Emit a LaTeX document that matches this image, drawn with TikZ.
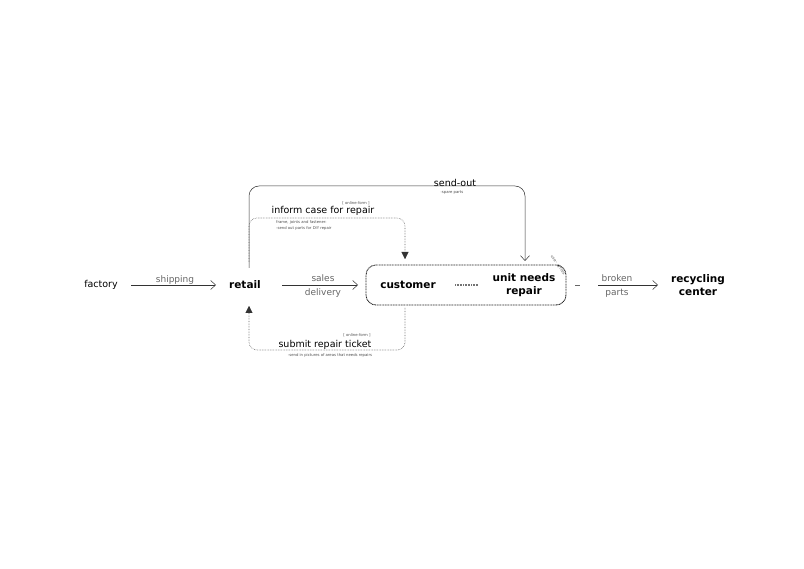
\documentclass[tikz,border=0pt]{standalone}
\usepackage{fontspec}
\setmainfont{DejaVu Sans}
\usetikzlibrary{arrows.meta,calc}
\begin{document}
\begin{tikzpicture}[x=1pt,y=-1pt,
 lbl/.style={font=\fontsize{9.5}{11}\selectfont},
 bld/.style={font=\fontsize{10.5}{13}\selectfont\bfseries,align=center},
 gl/.style={font=\fontsize{9}{13.5}\selectfont,text=black!60,align=center},
 tiny/.style={font=\fontsize{3.8}{5.5}\selectfont,text=black!70,align=left},
 arr/.style={draw=black!80,line width=0.5pt,-{Straight Barb[length=5pt,width=9pt]}},
 dot/.style={draw=black!60,line width=0.6pt,densely dotted,rounded corners=8pt},
 tri/.style={-{Triangle[length=7pt,width=7pt]}}]
\useasboundingbox (0,0) rectangle (804,569);
\node[lbl] (factory) at (101,285) {factory};
\node[bld] (retail) at (245,285) {retail};
\node[draw=black!85,dash pattern=on 1pt off 0.6pt,rounded corners=10pt,line width=0.9pt,minimum width=200pt,minimum height=40pt] (box) at (466,285) {};
\node[bld] (cust) at (408,285) {customer};
\node[bld] (unit) at (524,285) {unit needs\\repair};
\node[bld] (rec) at (698,285) {recycling\\center};
\coordinate (c1) at (455,285); \coordinate (c2) at (478,285);
\draw[black!55,line width=2.5pt,dash pattern=on 0.8pt off 0.8pt] (c1) -- (c2);
\coordinate (a1) at (131,285); \coordinate (a2) at (216,285);
\draw[arr] (a1) -- (a2);
\node[gl] (ship) at (175,280) {shipping};
\coordinate (b1) at (282,285); \coordinate (b2) at (358,285);
\draw[arr] (b1) -- (b2);
\node[gl] (sales) at (323,286) {sales\\delivery};
\coordinate (d1) at (598,285); \coordinate (d2) at (658,285);
\draw[arr] (d1) -- (d2);
\coordinate (d0) at (575,285); \coordinate (d0b) at (580,285);
\draw[black!60,line width=0.4pt] (d0) -- (d0b);
\node[gl] (broken) at (617,286) {broken\\parts};
% send-out
\coordinate (s0) at (249,268); \coordinate (s1) at (249,186); \coordinate (s2) at (525,186); \coordinate (s3) at (525,261);
\draw[arr,rounded corners=10pt] (s0) -- (s1) -- (s2) -- (s3);
\node[lbl] (so) at (455,183) {send-out};
\node[tiny] (sp) at (452,193) {-spare parts};
% inform
\coordinate (i0) at (249,262); \coordinate (i1) at (249,218); \coordinate (i2) at (405,218); \coordinate (i3) at (405,259);
\draw[dot] (i0) -- (i1) -- (i2) -- (i3);
\draw[tri,black!80,line width=0.4pt] ($(i3)+(0,-1)$) -- (i3);
\node[lbl] (inf) at (323,211) {inform case for repair};
\node[tiny] (of1) at (356,203) {[ online-form ]};
\node[tiny,anchor=west,inner sep=0] (fj) at (276,225.5) {frame, joints and fastener:\\-send out parts for DIY repair};
% submit
\coordinate (t0) at (405,308); \coordinate (t1) at (405,350); \coordinate (t2) at (249,350); \coordinate (t3) at (249,306);
\draw[dot] (t0) -- (t1) -- (t2) -- (t3);
\draw[tri,black!80,line width=0.4pt] ($(t3)+(0,1)$) -- (t3);
\node[lbl] (sub) at (325,345) {submit repair ticket};
\node[tiny] (of2) at (357,335) {[ online-form ]};
\node[tiny] (sp2) at (330,355) {-send in pictures of areas that needs repairs};
\node[tiny,rotate=-55] (uc) at (558,265) {use - cycles};
\end{tikzpicture}
\end{document}
